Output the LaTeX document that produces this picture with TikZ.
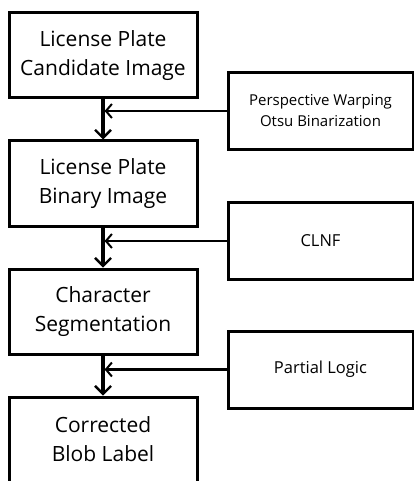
\documentclass[tikz,border=0pt]{standalone}
\usepackage{fontspec}
\setmainfont{Open Sans}
\usetikzlibrary{arrows.meta}
\usetikzlibrary{positioning}

\begin{document}
\begin{tikzpicture}[x=1pt,y=-1pt,auto,node distance=128pt,line width=3pt]
	\tikzstyle{stage}=[draw, minimum width=188pt, minimum height=85pt, inner sep=0pt, align=center, font=\fontsize{21}{29}\selectfont]
	\tikzstyle{tool}=[draw, minimum width=185pt, minimum height=77pt, inner sep=0pt, align=center]
	\tikzstyle{flow}=[-{Straight Barb[length=8pt,width=16pt,line width=2.3pt]}, line width=3.2pt]
	\tikzstyle{feed}=[-{Straight Barb[length=6pt,width=14pt,line width=2pt]}, line width=2.3pt]
	\useasboundingbox (0,0) rectangle (414,481);
	\clip (0,0) rectangle (414,481);
			\node[stage] (1) at (103,55.5) {License Plate\\Candidate Image};
			\node[stage] (2) [below of=1] {License Plate\\Binary Image};
			\node[stage] (3) [below of=2] {Character\\Segmentation};
			\node[stage] (4) [below of=3] {Corrected\\Blob Label};
			\node[tool, font=\fontsize{15}{21}\selectfont] (pw) at (320.5,111) {Perspective Warping\\Otsu Binarization};
			\node[tool, font=\fontsize{16.5}{22}\selectfont] (cl) at (320.5,241) {CLNF};
			\node[tool, font=\fontsize{16.5}{22}\selectfont] (pl) at (320.5,369.5) {Partial Logic};
			\draw[flow] (1) -- (2);
			\draw[flow] (2) -- (3);
			\draw[flow] (3) -- (4);
			\draw[feed] (pw.west) -- ([xshift=1.6pt]pw.west -| 1.south);
			\draw[feed] (cl.west) -- ([xshift=1.6pt]cl.west -| 2.south);
			\draw[feed] (pl.west) -- ([xshift=1.6pt]pl.west -| 3.south);
\end{tikzpicture}
\end{document}
